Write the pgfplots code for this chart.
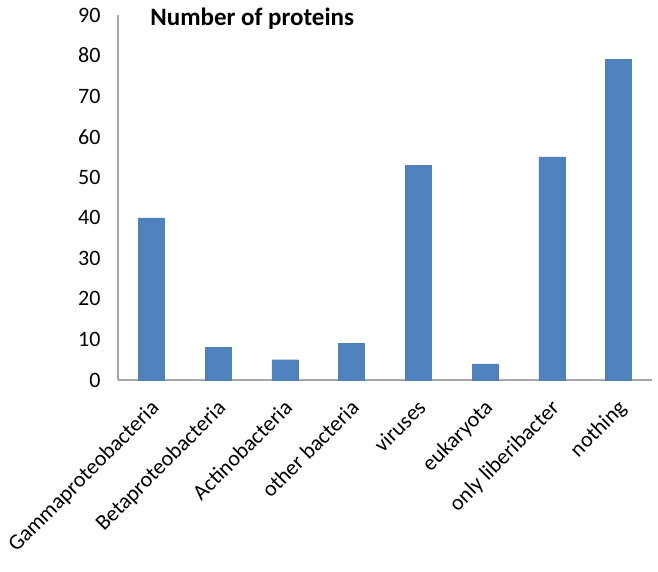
\documentclass[border=0pt]{standalone}
\usepackage{fontspec}
\setmainfont{Carlito}
\usepackage{pgfplots}
\pgfplotsset{compat=1.18}
\definecolor{barblue}{HTML}{4F81BD}
\definecolor{axgray}{HTML}{A6A6A6}
\begin{document}
\begin{tikzpicture}
\begin{axis}[
  scale only axis,
  width=534pt, height=365pt,
  ymin=0, ymax=90,
  ytick={0,10,...,90},
  xmin=-0.5, xmax=7.5,
  xtick=data,
  xticklabels={Gammaproteobacteria,Betaproteobacteria,Actinobacteria,other bacteria,viruses,eukaryota,only liberibacter,nothing},
  axis x line*=bottom,
  axis y line*=left,
  axis line style={axgray, line width=1.2pt, -},
  major tick length=0pt,
  /pgf/number format/assume math mode=true,
  yticklabel style={font=\fontsize{22}{26}\selectfont, xshift=-14pt},
  xticklabel style={font=\fontsize{22}{26}\selectfont, rotate=45, anchor=north east, xshift=-11pt, yshift=-8pt},
  ybar, bar width=26pt,
  clip=false,
]
\addplot[fill=barblue, draw=barblue] coordinates {(0,40) (1,8) (2,5) (3,9) (4,53) (5,4) (6,55) (7,79)};
\node[anchor=west, font=\fontsize{25}{28}\selectfont\bfseries] at (axis description cs:0.054,0.99) {Number of proteins};
\end{axis}
\pgfresetboundingbox
\path (-118pt,-191pt) rectangle (540pt,380pt);
\end{tikzpicture}
\end{document}
